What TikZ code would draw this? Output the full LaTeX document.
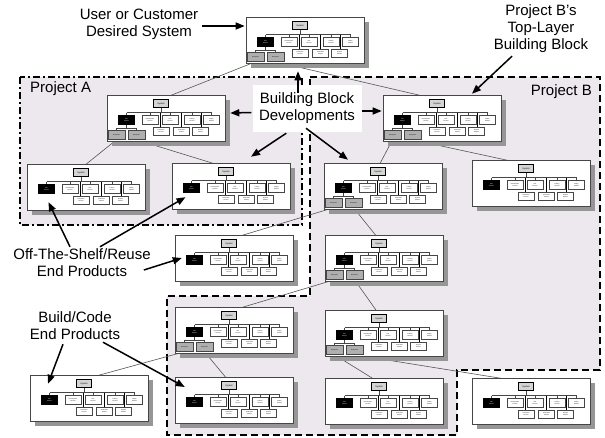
\documentclass[tikz,border=0pt]{standalone}
\usepackage{fontspec}
\setmainfont{Liberation Sans}
\usetikzlibrary{arrows.meta,calc}
\pgfdeclarelayer{bg}
\pgfsetlayers{bg,main}
\definecolor{regionfill}{RGB}{236,232,238}
\definecolor{shadowc}{RGB}{150,150,150}
\definecolor{framec}{RGB}{70,70,70}
\definecolor{sysfill}{RGB}{212,212,212}
\definecolor{subfill}{RGB}{175,175,175}
\definecolor{linkc}{RGB}{85,85,85}
\tikzset{
  tinytext/.style={font=\fontsize{1.4}{1.6}\selectfont, inner sep=0pt, align=center},
  blockframe/.style={draw=framec, line width=0.6pt, fill=white, minimum width=118pt, minimum height=46pt, inner sep=0pt},
  sysbox/.style={tinytext, draw=black, line width=0.4pt, fill=sysfill, minimum width=15pt, minimum height=8pt, font=\fontsize{2.2}{2.4}\selectfont},
  endbox/.style={tinytext, fill=black, text=white, minimum width=17pt, minimum height=10pt},
  prodbox/.style={tinytext, draw=framec, line width=0.5pt, fill=white, minimum width=16pt, minimum height=9pt},
  prodboxb/.style={tinytext, draw=framec, line width=0.5pt, fill=white, minimum width=16pt, minimum height=8pt},
  subbox/.style={tinytext, draw=framec, line width=0.5pt, fill=subfill, minimum width=17pt, minimum height=9pt},
  tree/.style={draw=framec, line width=0.4pt},
  treebold/.style={draw=black, line width=0.9pt},
  link/.style={draw=linkc, line width=0.6pt},
  regionA/.style={draw=black, fill=regionfill, line width=2pt, dash pattern=on 7pt off 3pt on 2pt off 3pt},
  regionB/.style={draw=black, fill=regionfill, line width=2pt, dash pattern=on 7pt off 4pt},
  lbl/.style={font=\fontsize{15}{17}\selectfont, align=center, inner sep=0pt},
  arr/.style={draw=black, line width=1.5pt, -{Triangle[length=9pt,width=7pt]}},
}
\def\BBcore{%
  \fill[shadowc] (5,5) rectangle (123,51);
  \node[blockframe] (-f) at (59,23) {};
  \draw[tree] (54,12.5) -- (54,17.5) (19.5,17.5) -- (104.5,17.5);
  \foreach \xx in {19.5,43,63,85,104.5} {\draw[tree] (\xx,17.5) -- (\xx,20.5);}
  \foreach \xx in {53,74,94.5} {\draw[treebold] (\xx,17.5) -- (\xx,32);}
  \node[sysbox] (-sys) at (54,8.5) {System};
  \node[endbox] (-end) at (19.5,25) {End\\Product};
  \node[prodbox] (-p1) at (43,25) {Development\\Product};
  \node[prodbox] (-p2) at (63,25) {Test\\Product};
  \node[prodbox] (-p3) at (85,25) {Training\\Product};
  \node[prodbox] (-p4) at (104.5,25) {Deploy\\Product};
  \node[prodboxb] (-p5) at (54,36) {Production\\Product};
  \node[prodboxb] (-p6) at (74.5,36) {Verification\\Product};
  \node[prodboxb] (-p7) at (93.5,36) {Support\\Product};
}
\def\BBsub{%
  \draw[tree] (19.5,30) -- (19.5,33) (9.5,33) -- (29.5,33) (9.5,33) -- (9.5,35.5) (29.5,33) -- (29.5,35.5);
  \node[subbox] (-s1) at (9.5,40) {Subsystem};
  \node[subbox] (-s2) at (29.5,40) {Subsystem};
}
\tikzset{
  bblock/.pic={\BBcore},
  bblocks/.pic={\BBcore\BBsub},
}
\begin{document}
\begin{tikzpicture}[x=1pt,y=-1pt]
\useasboundingbox (0,0) rectangle (605,437);
\begin{pgfonlayer}{bg}
  \fill[white] (0,0) rectangle (605,437);
  \draw[regionA] (20,77) rectangle (302,225);
  \draw[regionB] (310,77) -- (600,77) -- (600,370) -- (457,370) -- (457,435) -- (167,435) -- (167,296) -- (310,296) -- cycle;
\end{pgfonlayer}

% building blocks
\pic (b1) at (246,17) {bblocks};
\pic (b2) at (107,95) {bblocks};
\pic (b3) at (27,164) {bblock};
\pic (b4) at (172,163) {bblock};
\pic (b5) at (383,95) {bblocks};
\pic (b6) at (324,163) {bblocks};
\pic (b7) at (472,160) {bblock};
\pic (b8) at (175,235) {bblock};
\pic (b9) at (175,307) {bblocks};
\pic (b10) at (30,375) {bblock};
\pic (b11) at (175,377) {bblock};
\pic (b12) at (325,235) {bblocks};
\pic (b13) at (325,310) {bblocks};
\pic (b14) at (325,378) {bblock};
\pic (b15) at (472,378) {bblock};

% hierarchy links (behind blocks)
\begin{pgfonlayer}{bg}
  \draw[link] (b1-s1.south) -- (b2-sys.north);
  \draw[link] (b1-s2.south) -- (b5-sys.north);
  \draw[link] (b2-s1.south) -- (b3-sys.north);
  \draw[link] (b2-s2.south) -- (b4-sys.north);
  \draw[link] (b5-s1.south) -- (b6-sys.north);
  \draw[link] (b5-s2.south) -- (b7-sys.north);
  \draw[link] (b6-s1.south) -- (b8-sys.north);
  \draw[link] (b6-s2.south) -- (b12-sys.north);
  \draw[link] (b12-s1.south) -- (b9-sys.north);
  \draw[link] (b12-s2.south) -- (b13-sys.north);
  \draw[link] (b13-s1.south) -- (b14-sys.north);
  \draw[link] (b13-s2.south) -- (b15-sys.north);
  \draw[link] (b9-s1.south) -- (b10-sys.north);
  \draw[link] (b9-s2.south) -- (b11-sys.north);
\end{pgfonlayer}

% labels
\node[lbl] (uc) at (139,24) {User or Customer\\Desired System};
\node[lbl, anchor=west] (pa) at (30,89) {Project A};
\node[lbl, anchor=east] (pb) at (592,92) {Project B};
\node[lbl] (tl) at (541,29) {Project B's\\Top-Layer\\Building Block};
\node[lbl, fill=white, minimum width=109pt, minimum height=47pt] (bbd) at (307,108.5) {Building Block\\Developments};
\node[lbl] (ots) at (82,263) {Off-The-Shelf/Reuse\\End Products};
\node[lbl] (bc) at (75,326) {Build/Code\\End Products};

% arrows
\draw[arr] ($(uc.east)+(4,2)$) -- ($(b1-f.west)+(-1,-14)$);
\draw[arr] ($(tl.south)+(-29,3)$) -- ($(b5-f.north)+(30,-1)$);
\draw[arr] ($(bbd.north)+(-9,8)$) -- ($(b1-f.south)+(-7,8)$);
\draw[arr] ($(bbd.west)+(-1,4)$) -- ($(b2-f.east)+(5,-5)$);
\draw[arr] ($(bbd.south west)+(34,1)$) -- ($(b4-f.north)+(20,-6)$);
\draw[arr] ($(bbd.east)+(0,2.5)$) -- ($(b5-f.west)+(-1,-7)$);
\draw[arr] ($(bbd.south)+(-1,-4)$) -- ($(b6-f.north)+(-35,-3)$);
\draw[arr] ($(ots.north)+(-12,-2)$) -- ($(b3-end.south)+(2,8)$);
\draw[arr] ($(ots.north)+(18,-2)$) -- ($(b4-end.south)+(-6,4)$);
\draw[arr] ($(ots.east)+(-7,7)$) -- ($(b8-end.west)+(-4,-2)$);
\draw[arr] ($(bc.south)+(-12,4)$) -- ($(b10-end.north)+(-1.5,-11)$);
\draw[arr] ($(bc.south)+(28,2)$) -- ($(b11-end.west)+(-1,-15)$);
\end{tikzpicture}
\end{document}
